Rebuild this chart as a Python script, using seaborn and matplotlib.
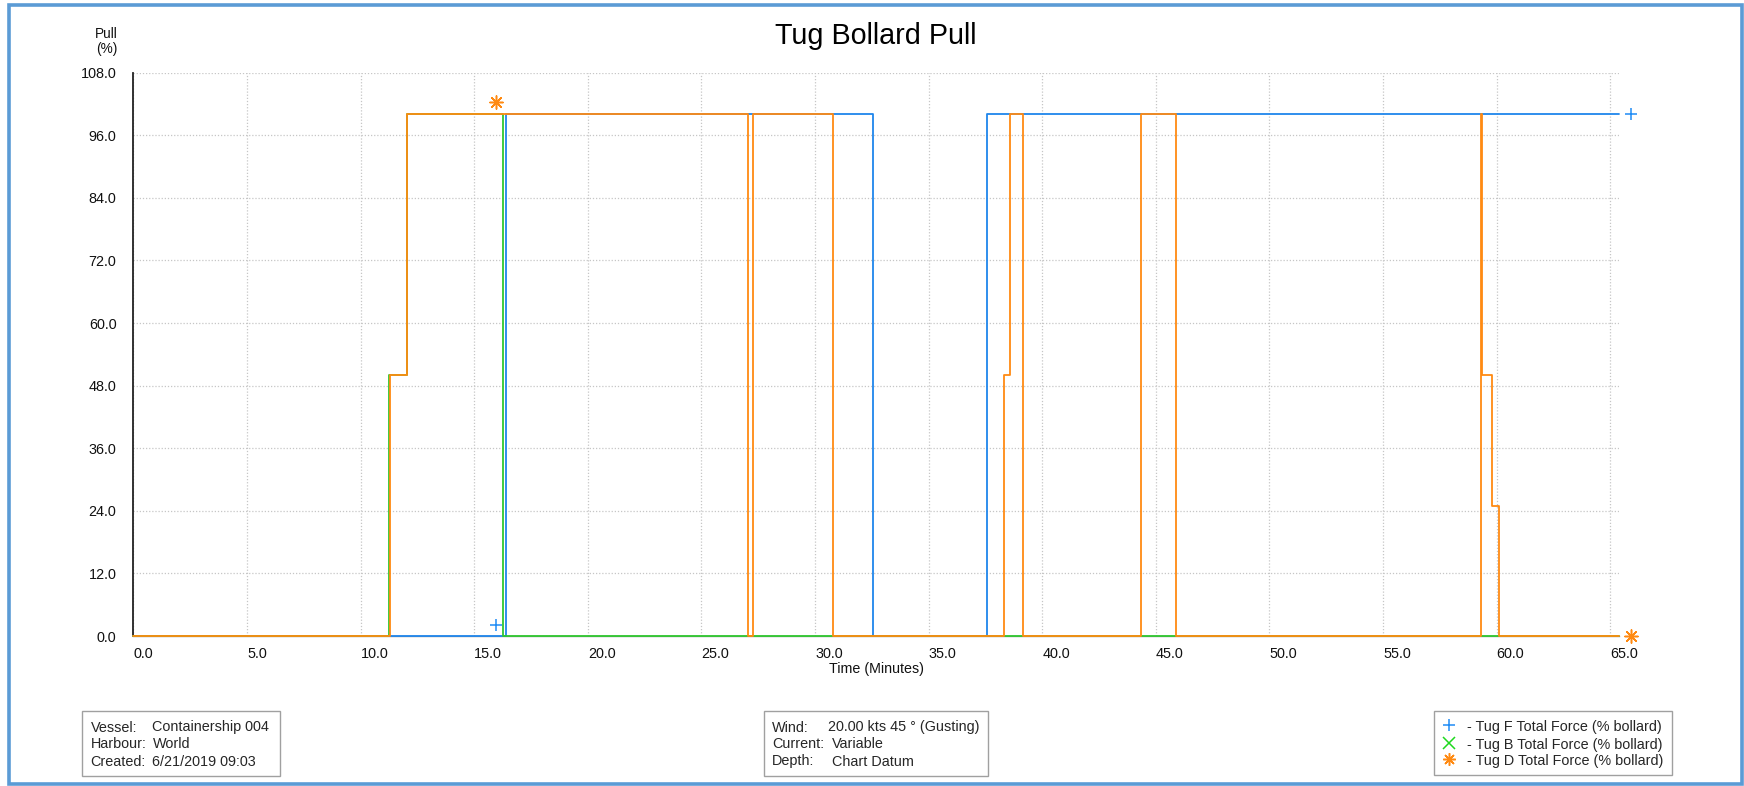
import matplotlib
matplotlib.use("Agg")
import matplotlib.pyplot as plt
from matplotlib.patches import Rectangle
from matplotlib.lines import Line2D
import pandas as pd
import seaborn as sns

# Step changes of each tug's total force (time in minutes, pull in % of bollard)
tug_f_time = [0.0, 16.40, 32.57, 37.58, 65.40]
tug_f_pull = [0, 100, 0, 100, 100]

tug_b_time = [0.0, 11.25, 12.03, 16.25, 65.40]
tug_b_pull = [0, 50, 100, 0, 0]

tug_d_time = [0.0, 11.29, 12.03, 27.07, 27.29, 30.78, 38.33, 38.58, 39.14,
              44.36, 45.90, 59.33, 59.37, 59.81, 60.08, 65.40]
tug_d_pull = [0, 50, 100, 0, 100, 0, 50, 100, 0, 100, 0, 100, 50, 25, 0, 0]

# Series symbol positions
tug_f_mark_time = [15.96, 65.90]
tug_f_mark_pull = [2.2, 100]
tug_d_mark_time = [15.96, 65.90]
tug_d_mark_pull = [102.3, 0]

series_names = ["Tug F", "Tug B", "Tug D"]
legend_labels = ["- Tug F Total Force (% bollard)",
                 "- Tug B Total Force (% bollard)",
                 "- Tug D Total Force (% bollard)"]
x_ticks = [0.0, 5.0, 10.0, 15.0, 20.0, 25.0, 30.0, 35.0, 40.0, 45.0, 50.0,
           55.0, 60.0, 65.0]
y_ticks = [0.0, 12.0, 24.0, 36.0, 48.0, 60.0, 72.0, 84.0, 96.0, 108.0]

info_left_keys = ["Vessel:", "Harbour:", "Created:"]
info_left_vals = ["Containership 004", "World", "6/21/2019 09:03"]
info_mid_keys = ["Wind:", "Current:", "Depth:"]
info_mid_vals = ["20.00 kts 45 \u00b0 (Gusting)", "Variable", "Chart Datum"]

line_colors = {"Tug F": "#1f86ec", "Tug B": "#2fc72f", "Tug D": "#ff8a12"}
legend_colors = ["#1f8cf5", "#1ed81e", "#ff8a12"]
asterisk = (8, 2, 0)
legend_markers = ["+", "x", asterisk]

sns.set_style("white")
plt.rcParams["font.family"] = ["Liberation Sans", "DejaVu Sans"]

W, H = 1744, 786
fig = plt.figure(figsize=(W / 100, H / 100), dpi=100)


def fx(px):
    return px / W


def fy(py):
    return 1 - py / H


x_left, x_right = 133.4, 1619.4
y_top, y_bottom = 72.7, 636.0
ax = fig.add_axes([fx(x_left), fy(y_bottom), (x_right - x_left) / W,
                   (y_bottom - y_top) / H])

frames = [
    pd.DataFrame({"Time": tug_f_time, "Pull": tug_f_pull, "Tug": "Tug F"}),
    pd.DataFrame({"Time": tug_b_time, "Pull": tug_b_pull, "Tug": "Tug B"}),
    pd.DataFrame({"Time": tug_d_time, "Pull": tug_d_pull, "Tug": "Tug D"}),
]
df = pd.concat(frames, ignore_index=True)

sns.lineplot(data=df, x="Time", y="Pull", hue="Tug", hue_order=series_names,
             palette=line_colors, estimator=None, sort=False,
             drawstyle="steps-post", linewidth=1.3, legend=False, ax=ax)
for ln in ax.get_lines():
    ln.set_clip_on(False)
    ln.set_zorder(3)

sns.scatterplot(x=tug_f_mark_time, y=tug_f_mark_pull, marker="+", s=80,
                color=legend_colors[0], linewidth=1.1, clip_on=False,
                zorder=4, ax=ax)
sns.scatterplot(x=tug_d_mark_time, y=tug_d_mark_pull, marker=asterisk, s=90,
                color=legend_colors[2], edgecolor=legend_colors[2],
                linewidth=1.1, clip_on=False, zorder=4, ax=ax)

ax.set_xlim(0, 65.4)
ax.set_ylim(0, 108)
ax.set_xticks(x_ticks, labels=[f"{v:.1f}" for v in x_ticks])
ax.set_yticks(y_ticks, labels=[f"{v:.1f}" for v in y_ticks])
for lab in ax.get_xticklabels():
    lab.set_horizontalalignment("left")
ax.set_xlabel("")
ax.set_ylabel("")

ax.tick_params(axis="x", direction="out", length=4, width=1, color="#444444",
               pad=3.6, labelsize=10.4, labelcolor="#111111")
ax.tick_params(axis="y", direction="in", length=5.2, width=1, color="#444444",
               pad=12.2, labelsize=10.4, labelcolor="#111111")

ax.grid(True, color="#c6c6c6", linestyle=(0, (1, 1.5)), linewidth=0.9)
ax.set_axisbelow(True)
for side in ("top", "right"):
    ax.spines[side].set_visible(False)
ax.spines["left"].set_color("#222222")
ax.spines["left"].set_linewidth(1.3)
ax.spines["bottom"].set_color("#999999")
ax.spines["bottom"].set_linewidth(1.0)

# Title and axis captions
fig.text(fx(875.5), fy(44), "Tug Bollard Pull", ha="center", va="baseline",
         fontsize=20.7, color="#000000")
fig.text(fx(117.7), fy(37.7), "Pull", ha="right", va="baseline",
         fontsize=9.8, color="#111111")
fig.text(fx(117.7), fy(52.5), "(%)", ha="right", va="baseline",
         fontsize=9.8, color="#111111")
fig.text(fx(876.5), fy(672.5), "Time (Minutes)", ha="center", va="baseline",
         fontsize=10.3, color="#111111")


def box(x0, y0, x1, y1):
    fig.add_artist(Rectangle((fx(x0), fy(y1)), (x1 - x0) / W, (y1 - y0) / H,
                             transform=fig.transFigure, facecolor="white",
                             edgecolor="#a0a0a0", linewidth=1.0))


rows = [731.5, 748.5, 765.5]
fs = 10.4

# Vessel info
box(81.7, 711, 280, 776)
for yb, k, v in zip(rows, info_left_keys, info_left_vals):
    fig.text(fx(90.7), fy(yb), k, ha="left", va="baseline", fontsize=fs)
    fig.text(fx(152.5), fy(yb), v, ha="left", va="baseline", fontsize=fs)

# Environment info
box(764, 711, 988, 776)
val_x = [828.3, 831.7, 831.7]
for yb, k, v, vx in zip(rows, info_mid_keys, info_mid_vals, val_x):
    fig.text(fx(772), fy(yb), k, ha="left", va="baseline", fontsize=fs)
    fig.text(fx(vx), fy(yb), v, ha="left", va="baseline", fontsize=fs)

# Series key
box(1434, 711, 1672, 775)
marker_rows = [725, 742.7, 759.3]
for ym, yb, lab, col, mk in zip(marker_rows, rows, legend_labels,
                                legend_colors, legend_markers):
    fig.add_artist(Line2D([fx(1449)], [fy(ym)], transform=fig.transFigure,
                          marker=mk, markersize=9, markeredgewidth=1.1,
                          color=col, linestyle="none"))
    fig.text(fx(1466.7), fy(yb), lab, ha="left", va="baseline", fontsize=fs)

# Outer frame
fig.add_artist(Rectangle((fx(8.5), fy(784)), (1742 - 8.5) / W, (784 - 4.5) / H,
                         transform=fig.transFigure, facecolor="none",
                         edgecolor="#5b9bd5", linewidth=2.6))

fig.savefig("out.png", dpi=100)
